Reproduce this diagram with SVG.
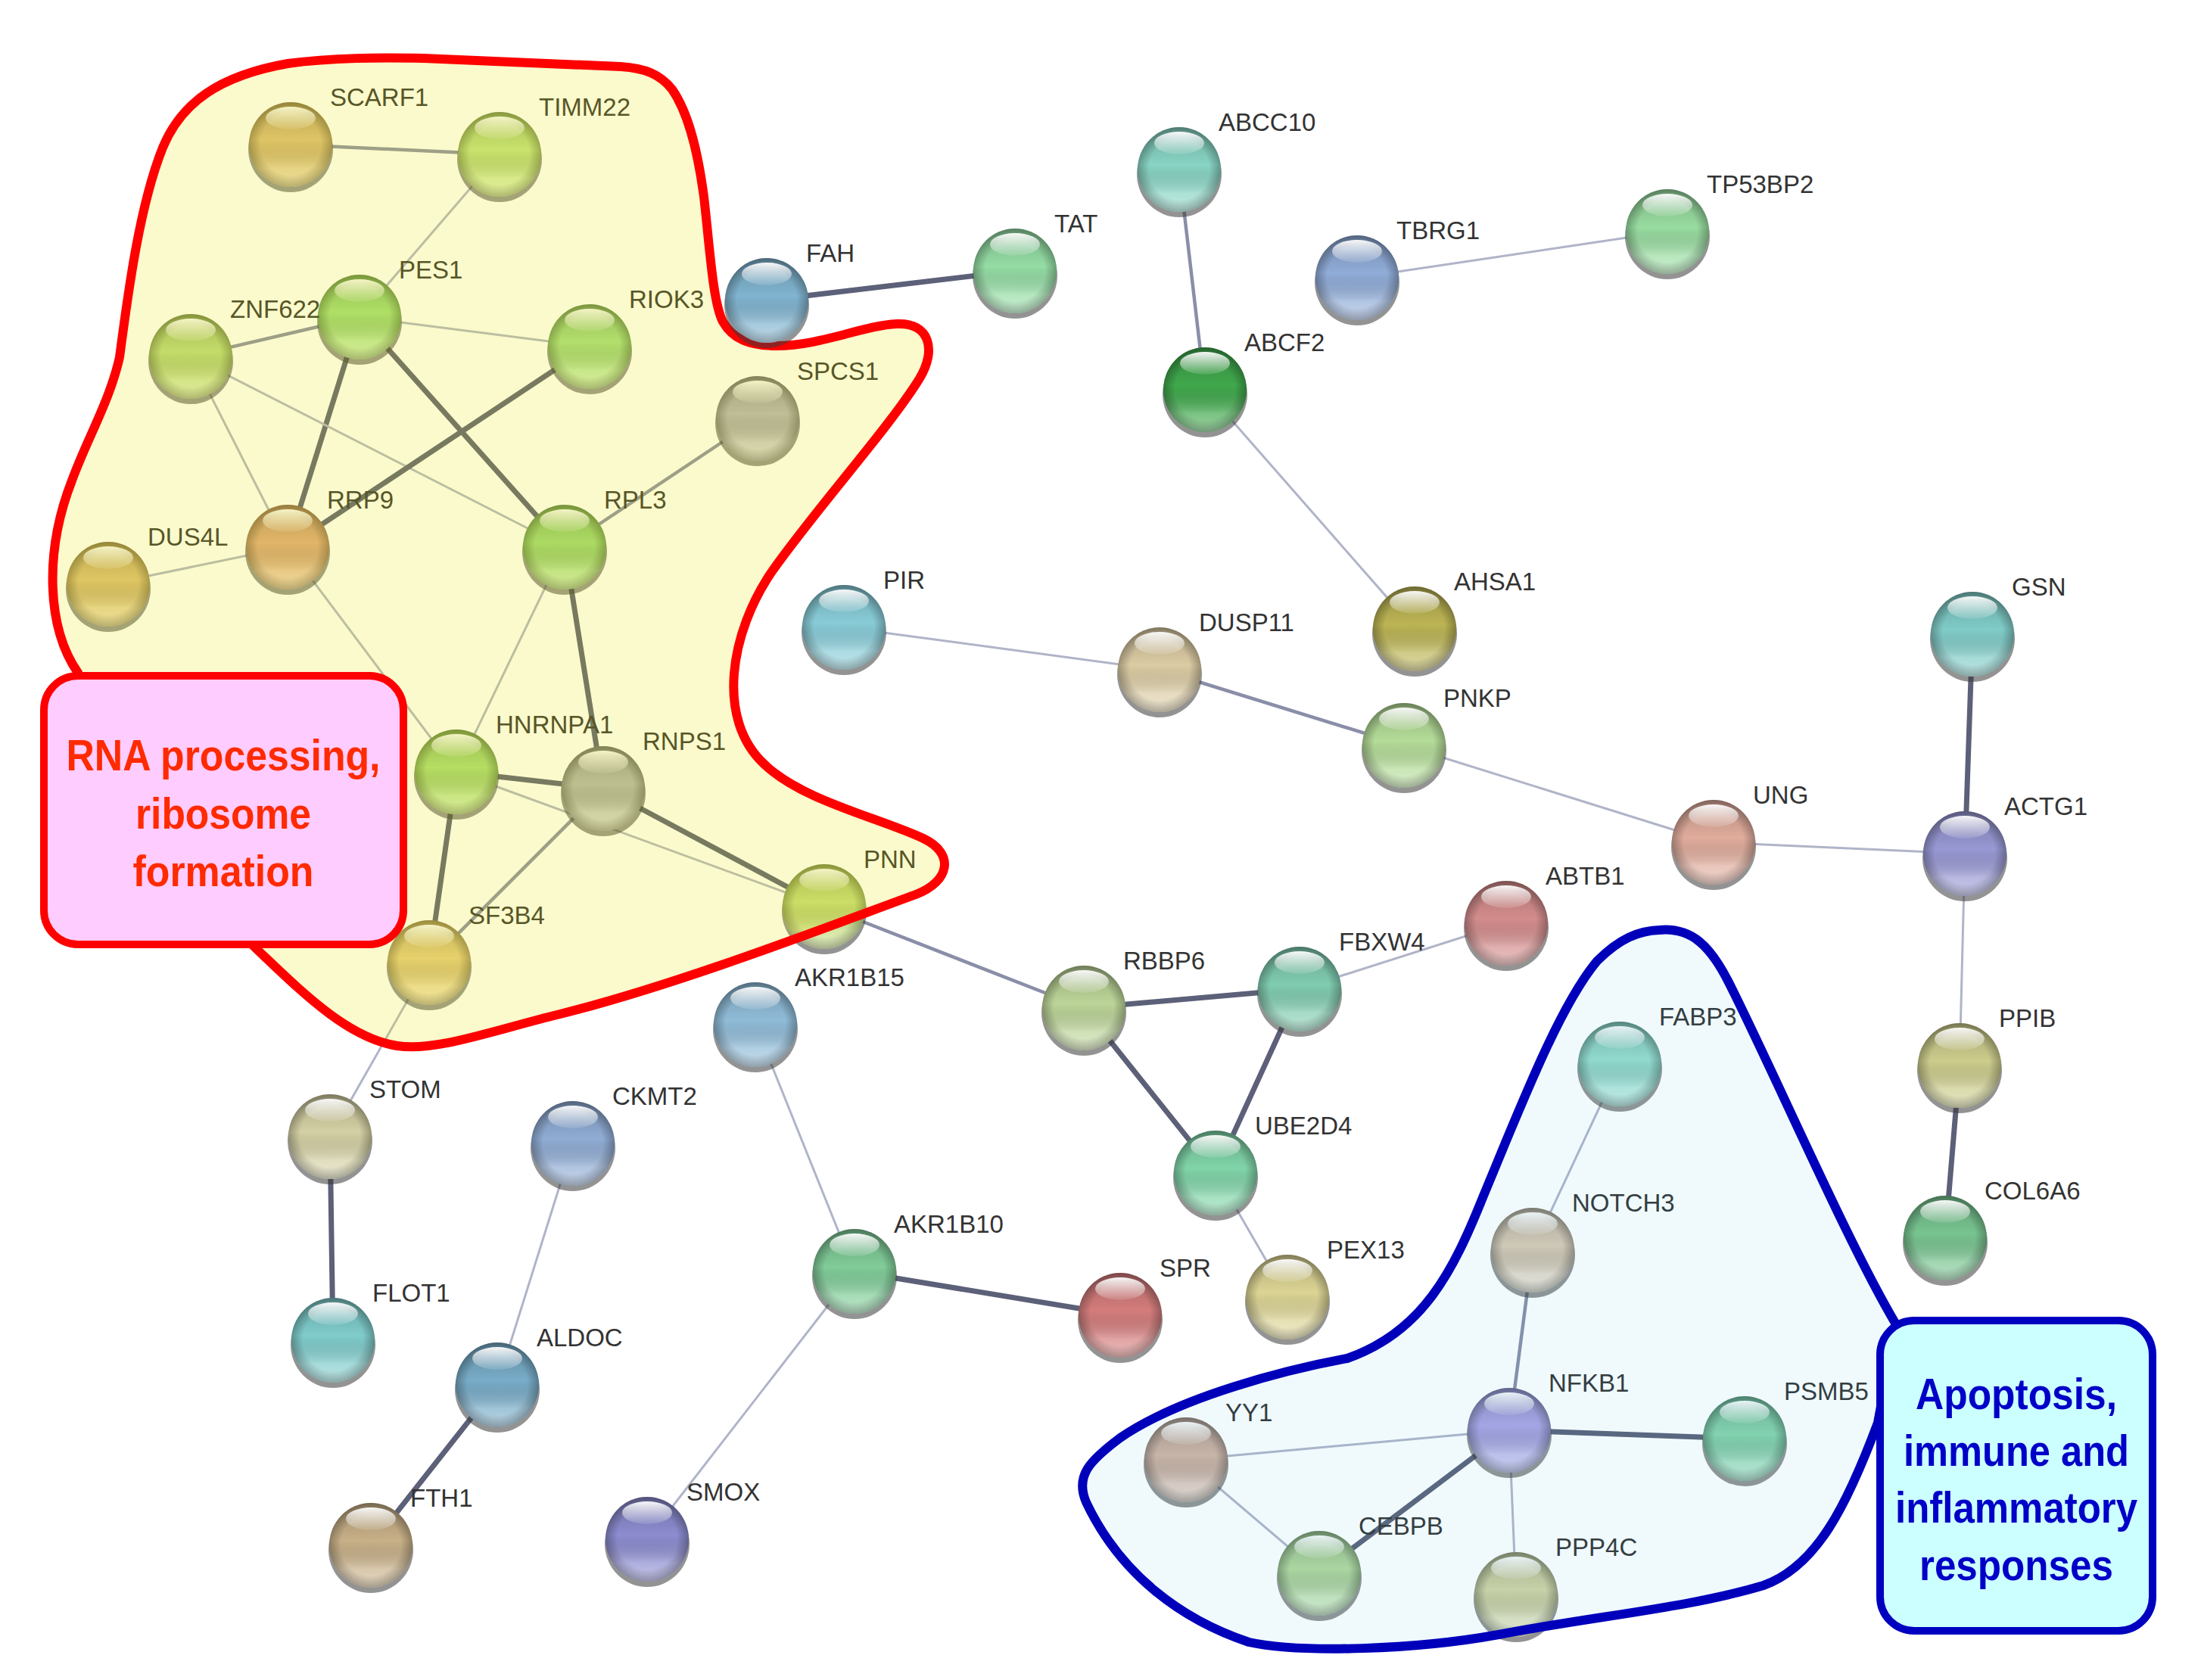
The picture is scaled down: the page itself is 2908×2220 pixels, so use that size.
<svg xmlns="http://www.w3.org/2000/svg" width="2908" height="2220" viewBox="0 0 2908 2220">
<defs>
<style>
.lbl{font-family:"Liberation Sans",Arial,sans-serif;font-size:33px;fill:#333}
.e1{stroke:#b0b4c8;stroke-width:3;fill:none;stroke-linecap:round}
.e2{stroke:#8a8ea8;stroke-width:4.5;fill:none;stroke-linecap:round}
.e3{stroke:#5c6078;stroke-width:7;fill:none;stroke-linecap:round}
.box{font-family:"Liberation Sans",Arial,sans-serif;font-weight:bold;font-size:58px;text-anchor:middle}
</style>
<linearGradient id="shade" x1="0" y1="0" x2="0" y2="1">
<stop offset="0" stop-color="#000" stop-opacity="0.2"/>
<stop offset="0.45" stop-color="#000" stop-opacity="0"/>
<stop offset="0.78" stop-color="#fff" stop-opacity="0.3"/>
<stop offset="1" stop-color="#fff" stop-opacity="0.5"/>
</linearGradient>
<radialGradient id="rim" cx="0.5" cy="0.5" r="0.5">
<stop offset="0.72" stop-color="#000" stop-opacity="0"/>
<stop offset="1" stop-color="#000" stop-opacity="0.28"/>
</radialGradient>
<linearGradient id="hl" x1="0" y1="0" x2="0" y2="1">
<stop offset="0" stop-color="#fff" stop-opacity="0.95"/>
<stop offset="1" stop-color="#fff" stop-opacity="0.1"/>
</linearGradient>
<g id="under"><ellipse cx="0" cy="6" rx="56" ry="57" fill="#3a3a3a" opacity="0.55"/></g>
<g id="gloss">
<ellipse rx="55" ry="56" fill="url(#shade)"/>
<ellipse rx="55" ry="56" fill="url(#rim)"/>
<ellipse cy="-35" rx="33" ry="15" fill="url(#hl)"/>
</g>
</defs>
<rect width="2908" height="2220" fill="#fff"/>

<g id="connectors">
<line class="e2" x1="384" y1="191" x2="660" y2="204"/>
<line class="e1" x1="660" y1="204" x2="475" y2="419"/>
<line class="e2" x1="475" y1="419" x2="252" y2="471"/>
<line class="e1" x1="475" y1="419" x2="779" y2="458"/>
<line class="e3" x1="475" y1="419" x2="380" y2="723"/>
<line class="e3" x1="475" y1="419" x2="746" y2="723"/>
<line class="e1" x1="252" y1="471" x2="380" y2="723"/>
<line class="e1" x1="252" y1="471" x2="746" y2="723"/>
<line class="e3" x1="779" y1="458" x2="380" y2="723"/>
<line class="e1" x1="380" y1="723" x2="143" y2="772"/>
<line class="e1" x1="380" y1="723" x2="603" y2="1020"/>
<line class="e2" x1="1001" y1="553" x2="746" y2="723"/>
<line class="e1" x1="746" y1="723" x2="603" y2="1020"/>
<line class="e3" x1="746" y1="723" x2="797" y2="1042"/>
<line class="e3" x1="603" y1="1020" x2="797" y2="1042"/>
<line class="e3" x1="603" y1="1020" x2="567" y2="1272"/>
<line class="e1" x1="603" y1="1020" x2="1089" y2="1198"/>
<line class="e2" x1="797" y1="1042" x2="567" y2="1272"/>
<line class="e3" x1="797" y1="1042" x2="1089" y2="1198"/>
<line class="e1" x1="567" y1="1272" x2="436" y2="1502"/>
<line class="e3" x1="1013" y1="397" x2="1341" y2="358"/>
<line class="e2" x1="1558" y1="224" x2="1592" y2="515"/>
<line class="e1" x1="1793" y1="367" x2="2203" y2="306"/>
<line class="e1" x1="1592" y1="515" x2="1869" y2="831"/>
<line class="e1" x1="1115" y1="829" x2="1532" y2="885"/>
<line class="e2" x1="1532" y1="885" x2="1855" y2="985"/>
<line class="e1" x1="1855" y1="985" x2="2264" y2="1113"/>
<line class="e1" x1="2264" y1="1113" x2="2596" y2="1128"/>
<line class="e3" x1="2606" y1="838" x2="2596" y2="1128"/>
<line class="e1" x1="2596" y1="1128" x2="2589" y2="1408"/>
<line class="e3" x1="2589" y1="1408" x2="2570" y2="1636"/>
<line class="e2" x1="1089" y1="1198" x2="1432" y2="1332"/>
<line class="e3" x1="1432" y1="1332" x2="1717" y2="1307"/>
<line class="e3" x1="1432" y1="1332" x2="1606" y2="1550"/>
<line class="e3" x1="1717" y1="1307" x2="1606" y2="1550"/>
<line class="e1" x1="1717" y1="1307" x2="1990" y2="1220"/>
<line class="e1" x1="1606" y1="1550" x2="1701" y2="1714"/>
<line class="e1" x1="998" y1="1354" x2="1129" y2="1680"/>
<line class="e3" x1="1129" y1="1680" x2="1480" y2="1738"/>
<line class="e1" x1="1129" y1="1680" x2="855" y2="2034"/>
<line class="e3" x1="436" y1="1502" x2="440" y2="1771"/>
<line class="e1" x1="757" y1="1511" x2="657" y2="1830"/>
<line class="e3" x1="657" y1="1830" x2="490" y2="2042"/>
<line class="e1" x1="2140" y1="1406" x2="2025" y2="1652"/>
<line class="e2" x1="2025" y1="1652" x2="1994" y2="1890"/>
<line class="e1" x1="1994" y1="1890" x2="1567" y2="1929"/>
<line class="e3" x1="1994" y1="1890" x2="2305" y2="1901"/>
<line class="e3" x1="1994" y1="1890" x2="1743" y2="2079"/>
<line class="e1" x1="1994" y1="1890" x2="2003" y2="2107"/>
<line class="e1" x1="1567" y1="1929" x2="1743" y2="2079"/>
</g>

<g id="node-SCARF1" transform="translate(384,191)"><use href="#under"/><ellipse rx="55" ry="56" fill="#dcbc80"/><use href="#gloss"/><text class="lbl" x="52" y="-51">SCARF1</text></g>
<g id="node-TIMM22" transform="translate(660,204)"><use href="#under"/><ellipse rx="55" ry="56" fill="#c0e288"/><use href="#gloss"/><text class="lbl" x="52" y="-51">TIMM22</text></g>
<g id="node-PES1" transform="translate(475,419)"><use href="#under"/><ellipse rx="55" ry="56" fill="#a0de80"/><use href="#gloss"/><text class="lbl" x="52" y="-51">PES1</text></g>
<g id="node-ZNF622" transform="translate(252,471)"><use href="#under"/><ellipse rx="55" ry="56" fill="#bada84"/><use href="#gloss"/><text class="lbl" x="52" y="-51">ZNF622</text></g>
<g id="node-RIOK3" transform="translate(779,458)"><use href="#under"/><ellipse rx="55" ry="56" fill="#a4de88"/><use href="#gloss"/><text class="lbl" x="52" y="-51">RIOK3</text></g>
<g id="node-SPCS1" transform="translate(1001,553)"><use href="#under"/><ellipse rx="55" ry="56" fill="#b4b4bc"/><use href="#gloss"/><text class="lbl" x="52" y="-51">SPCS1</text></g>
<g id="node-RRP9" transform="translate(380,723)"><use href="#under"/><ellipse rx="55" ry="56" fill="#e0aa84"/><use href="#gloss"/><text class="lbl" x="52" y="-51">RRP9</text></g>
<g id="node-DUS4L" transform="translate(143,772)"><use href="#under"/><ellipse rx="55" ry="56" fill="#dcbe7c"/><use href="#gloss"/><text class="lbl" x="52" y="-51">DUS4L</text></g>
<g id="node-RPL3" transform="translate(746,723)"><use href="#under"/><ellipse rx="55" ry="56" fill="#9cd87c"/><use href="#gloss"/><text class="lbl" x="52" y="-51">RPL3</text></g>
<g id="node-HNRNPA1" transform="translate(603,1020)"><use href="#under"/><ellipse rx="55" ry="56" fill="#a8dc7c"/><use href="#gloss"/><text class="lbl" x="52" y="-51">HNRNPA1</text></g>
<g id="node-RNPS1" transform="translate(797,1042)"><use href="#under"/><ellipse rx="55" ry="56" fill="#b2b6b6"/><use href="#gloss"/><text class="lbl" x="52" y="-51">RNPS1</text></g>
<g id="node-PNN" transform="translate(1089,1198)"><use href="#under"/><ellipse rx="55" ry="56" fill="#c4dc80"/><use href="#gloss"/><text class="lbl" x="52" y="-51">PNN</text></g>
<g id="node-SF3B4" transform="translate(567,1272)"><use href="#under"/><ellipse rx="55" ry="56" fill="#e6cc88"/><use href="#gloss"/><text class="lbl" x="52" y="-51">SF3B4</text></g>
<g id="node-TAT" transform="translate(1341,358)"><use href="#under"/><ellipse rx="55" ry="56" fill="#94dca4"/><use href="#gloss"/><text class="lbl" x="52" y="-51">TAT</text></g>
<g id="node-ABCC10" transform="translate(1558,224)"><use href="#under"/><ellipse rx="55" ry="56" fill="#88d4c4"/><use href="#gloss"/><text class="lbl" x="52" y="-51">ABCC10</text></g>
<g id="node-TBRG1" transform="translate(1793,367)"><use href="#under"/><ellipse rx="55" ry="56" fill="#90acd8"/><use href="#gloss"/><text class="lbl" x="52" y="-51">TBRG1</text></g>
<g id="node-TP53BP2" transform="translate(2203,306)"><use href="#under"/><ellipse rx="55" ry="56" fill="#98dca0"/><use href="#gloss"/><text class="lbl" x="52" y="-51">TP53BP2</text></g>
<g id="node-ABCF2" transform="translate(1592,515)"><use href="#under"/><ellipse rx="55" ry="56" fill="#40a84c"/><use href="#gloss"/><text class="lbl" x="52" y="-51">ABCF2</text></g>
<g id="node-AHSA1" transform="translate(1869,831)"><use href="#under"/><ellipse rx="55" ry="56" fill="#bcb454"/><use href="#gloss"/><text class="lbl" x="52" y="-51">AHSA1</text></g>
<g id="node-PIR" transform="translate(1115,829)"><use href="#under"/><ellipse rx="55" ry="56" fill="#88ccd8"/><use href="#gloss"/><text class="lbl" x="52" y="-51">PIR</text></g>
<g id="node-DUSP11" transform="translate(1532,885)"><use href="#under"/><ellipse rx="55" ry="56" fill="#dccca4"/><use href="#gloss"/><text class="lbl" x="52" y="-51">DUSP11</text></g>
<g id="node-PNKP" transform="translate(1855,985)"><use href="#under"/><ellipse rx="55" ry="56" fill="#b4dc98"/><use href="#gloss"/><text class="lbl" x="52" y="-51">PNKP</text></g>
<g id="node-GSN" transform="translate(2606,838)"><use href="#under"/><ellipse rx="55" ry="56" fill="#80ccc8"/><use href="#gloss"/><text class="lbl" x="52" y="-51">GSN</text></g>
<g id="node-UNG" transform="translate(2264,1113)"><use href="#under"/><ellipse rx="55" ry="56" fill="#e0ac9c"/><use href="#gloss"/><text class="lbl" x="52" y="-51">UNG</text></g>
<g id="node-ACTG1" transform="translate(2596,1128)"><use href="#under"/><ellipse rx="55" ry="56" fill="#9898d4"/><use href="#gloss"/><text class="lbl" x="52" y="-51">ACTG1</text></g>
<g id="node-ABTB1" transform="translate(1990,1220)"><use href="#under"/><ellipse rx="55" ry="56" fill="#d48c8c"/><use href="#gloss"/><text class="lbl" x="52" y="-51">ABTB1</text></g>
<g id="node-RBBP6" transform="translate(1432,1332)"><use href="#under"/><ellipse rx="55" ry="56" fill="#bcd498"/><use href="#gloss"/><text class="lbl" x="52" y="-51">RBBP6</text></g>
<g id="node-FBXW4" transform="translate(1717,1307)"><use href="#under"/><ellipse rx="55" ry="56" fill="#80ccb0"/><use href="#gloss"/><text class="lbl" x="52" y="-51">FBXW4</text></g>
<g id="node-AKR1B15" transform="translate(998,1354)"><use href="#under"/><ellipse rx="55" ry="56" fill="#90bcd8"/><use href="#gloss"/><text class="lbl" x="52" y="-51">AKR1B15</text></g>
<g id="node-FABP3" transform="translate(2140,1406)"><use href="#under"/><ellipse rx="55" ry="56" fill="#98dccc"/><use href="#gloss"/><text class="lbl" x="52" y="-51">FABP3</text></g>
<g id="node-PPIB" transform="translate(2589,1408)"><use href="#under"/><ellipse rx="55" ry="56" fill="#cccc8c"/><use href="#gloss"/><text class="lbl" x="52" y="-51">PPIB</text></g>
<g id="node-STOM" transform="translate(436,1502)"><use href="#under"/><ellipse rx="55" ry="56" fill="#d4d0a4"/><use href="#gloss"/><text class="lbl" x="52" y="-51">STOM</text></g>
<g id="node-CKMT2" transform="translate(757,1511)"><use href="#under"/><ellipse rx="55" ry="56" fill="#90acd4"/><use href="#gloss"/><text class="lbl" x="52" y="-51">CKMT2</text></g>
<g id="node-UBE2D4" transform="translate(1606,1550)"><use href="#under"/><ellipse rx="55" ry="56" fill="#80d4a8"/><use href="#gloss"/><text class="lbl" x="52" y="-51">UBE2D4</text></g>
<g id="node-NOTCH3" transform="translate(2025,1652)"><use href="#under"/><ellipse rx="55" ry="56" fill="#dccab4"/><use href="#gloss"/><text class="lbl" x="52" y="-51">NOTCH3</text></g>
<g id="node-COL6A6" transform="translate(2570,1636)"><use href="#under"/><ellipse rx="55" ry="56" fill="#78c490"/><use href="#gloss"/><text class="lbl" x="52" y="-51">COL6A6</text></g>
<g id="node-AKR1B10" transform="translate(1129,1680)"><use href="#under"/><ellipse rx="55" ry="56" fill="#80cc98"/><use href="#gloss"/><text class="lbl" x="52" y="-51">AKR1B10</text></g>
<g id="node-SPR" transform="translate(1480,1738)"><use href="#under"/><ellipse rx="55" ry="56" fill="#d47c7c"/><use href="#gloss"/><text class="lbl" x="52" y="-51">SPR</text></g>
<g id="node-PEX13" transform="translate(1701,1714)"><use href="#under"/><ellipse rx="55" ry="56" fill="#dcd494"/><use href="#gloss"/><text class="lbl" x="52" y="-51">PEX13</text></g>
<g id="node-FLOT1" transform="translate(440,1771)"><use href="#under"/><ellipse rx="55" ry="56" fill="#80cccc"/><use href="#gloss"/><text class="lbl" x="52" y="-51">FLOT1</text></g>
<g id="node-ALDOC" transform="translate(657,1830)"><use href="#under"/><ellipse rx="55" ry="56" fill="#78acc8"/><use href="#gloss"/><text class="lbl" x="52" y="-51">ALDOC</text></g>
<g id="node-NFKB1" transform="translate(1994,1890)"><use href="#under"/><ellipse rx="55" ry="56" fill="#aca4e4"/><use href="#gloss"/><text class="lbl" x="52" y="-51">NFKB1</text></g>
<g id="node-PSMB5" transform="translate(2305,1901)"><use href="#under"/><ellipse rx="55" ry="56" fill="#88d4ac"/><use href="#gloss"/><text class="lbl" x="52" y="-51">PSMB5</text></g>
<g id="node-YY1" transform="translate(1567,1929)"><use href="#under"/><ellipse rx="55" ry="56" fill="#d4b4a4"/><use href="#gloss"/><text class="lbl" x="52" y="-51">YY1</text></g>
<g id="node-CEBPB" transform="translate(1743,2079)"><use href="#under"/><ellipse rx="55" ry="56" fill="#b4d89c"/><use href="#gloss"/><text class="lbl" x="52" y="-51">CEBPB</text></g>
<g id="node-PPP4C" transform="translate(2003,2107)"><use href="#under"/><ellipse rx="55" ry="56" fill="#d4d4a4"/><use href="#gloss"/><text class="lbl" x="52" y="-51">PPP4C</text></g>
<g id="node-FTH1" transform="translate(490,2042)"><use href="#under"/><ellipse rx="55" ry="56" fill="#c8b088"/><use href="#gloss"/><text class="lbl" x="52" y="-51">FTH1</text></g>
<g id="node-SMOX" transform="translate(855,2034)"><use href="#under"/><ellipse rx="55" ry="56" fill="#8c8cd0"/><use href="#gloss"/><text class="lbl" x="52" y="-51">SMOX</text></g>

<g id="region-rna">
<path d="M 215,195 C 240,135 290,100 380,84 C 440,76 500,76 560,77 L 820,88 C 852,90 872,98 888,118 C 910,150 922,200 930,260 C 938,330 942,400 955,425 C 968,448 990,457 1025,457 C 1085,457 1140,430 1185,428 C 1228,426 1238,462 1215,500 C 1175,565 1080,670 1020,755 C 965,835 945,950 1010,1010 C 1060,1058 1160,1080 1220,1108 C 1262,1128 1255,1165 1210,1182 C 1100,1222 900,1300 740,1340 C 650,1362 575,1390 525,1382 C 460,1372 400,1312 340,1255 L 200,1120 L 103,889 C 62,830 58,730 95,635 C 115,580 145,530 158,472 C 170,380 185,270 215,195 Z" fill="#ece400" fill-opacity="0.2" stroke="#ff0000" stroke-width="12" stroke-linejoin="round"/>
</g>
<g id="region-immune">
<path d="M 2192,1229 C 2235,1225 2260,1250 2285,1300 C 2350,1430 2440,1640 2505,1750 L 2481,1880 C 2440,1990 2400,2070 2330,2095 C 2230,2125 2110,2135 1980,2160 C 1870,2180 1720,2185 1650,2170 C 1560,2140 1480,2080 1435,1985 C 1420,1950 1440,1930 1480,1900 C 1560,1845 1700,1810 1780,1795 C 1880,1760 1920,1680 1960,1580 C 2010,1460 2060,1330 2110,1270 C 2140,1240 2165,1230 2192,1229 Z" fill="#40c0e0" fill-opacity="0.08" stroke="#0000bb" stroke-width="12" stroke-linejoin="round"/>
</g>

<g id="node-FAH" transform="translate(1013,397)"><use href="#under"/><ellipse rx="55" ry="56" fill="#80b4d0"/><use href="#gloss"/><text class="lbl" x="52" y="-51">FAH</text></g>

<g id="label-rna">
<rect x="58" y="893" width="475" height="355" rx="45" fill="#ffccff" stroke="#ff0000" stroke-width="10"/>
<text class="box" fill="#ff2a00" x="295" y="1018" textLength="415" lengthAdjust="spacingAndGlyphs">RNA processing,</text>
<text class="box" fill="#ff2a00" x="295" y="1095" textLength="232" lengthAdjust="spacingAndGlyphs">ribosome</text>
<text class="box" fill="#ff2a00" x="295" y="1171" textLength="239" lengthAdjust="spacingAndGlyphs">formation</text>
</g>
<g id="label-immune">
<rect x="2484" y="1745" width="360" height="410" rx="45" fill="#ccffff" stroke="#0000c0" stroke-width="10"/>
<text class="box" fill="#0000c8" x="2664" y="1862" textLength="266" lengthAdjust="spacingAndGlyphs">Apoptosis,</text>
<text class="box" fill="#0000c8" x="2664" y="1937" textLength="298" lengthAdjust="spacingAndGlyphs">immune and</text>
<text class="box" fill="#0000c8" x="2664" y="2012" textLength="320" lengthAdjust="spacingAndGlyphs">inflammatory</text>
<text class="box" fill="#0000c8" x="2664" y="2088" textLength="256" lengthAdjust="spacingAndGlyphs">responses</text>
</g>
</svg>
